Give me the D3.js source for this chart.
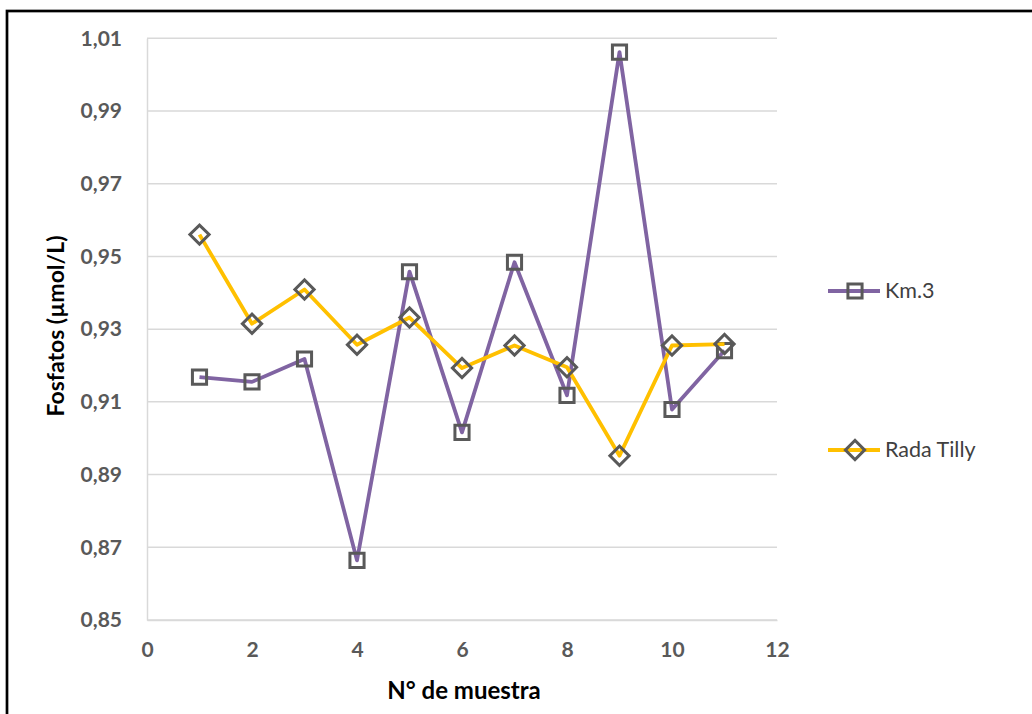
<!DOCTYPE html>
<html>
<head>
<meta charset="utf-8">
<script src="https://cdn.jsdelivr.net/npm/d3@7"></script>
<style>
  body { margin: 0; background: #fff; }
  svg { display: block; }
</style>
</head>
<body>
<script>
// muestras y valores
const muestras = [1, 2, 3, 4, 5, 6, 7, 8, 9, 10, 11];
const km3 = [0.9168, 0.9155, 0.9218, 0.8664, 0.9458, 0.9016, 0.9484, 0.9118, 1.0062, 0.9079, 0.9241];
const radaTilly = [0.9560, 0.9315, 0.9409, 0.9257, 0.9332, 0.9193, 0.9255, 0.9195, 0.8952, 0.9255, 0.9259];
const yTicks = [0.85, 0.87, 0.89, 0.91, 0.93, 0.95, 0.97, 0.99, 1.01];
const xTicks = [0, 2, 4, 6, 8, 10, 12];

var width = 1032, height = 714;
var svg = d3.select('body').append('svg')
            .attr("width", width).attr("height", height);

// marco
svg.append('rect')
   .attr("x", 7).attr("y", 11)
   .attr("width", 1100).attr("height", 800)
   .attr("fill", "#fff")
   .attr("stroke", "#000").attr("stroke-width", 2.7);

var x = d3.scaleLinear().domain([0, 12]).range([147, 777]);
var y = d3.scaleLinear().domain([0.85, 1.01]).range([620, 38.3]);
const fmt = v => d3.format(".2f")(v).replace(".", ",");

// grilla
svg.append("g")
   .selectAll("line")
   .data(yTicks)
   .enter().append("line")
   .attr("x1", x(0)).attr("x2", x(12))
   .attr("y1", d => y(d)).attr("y2", d => y(d))
   .attr("stroke", "#d9d9d9").attr("stroke-width", 1.5);

// eje y
var yAxis = d3.axisLeft(y).tickValues(yTicks).tickFormat(fmt).tickSize(0).tickPadding(25);
var gy = svg.append("g").attr("transform", "translate(" + x(0) + ",0)").call(yAxis);
gy.select(".domain").attr("stroke", "#d9d9d9").attr("stroke-width", 1.5);
gy.selectAll("text")
  .attr("font-family", "Lato").attr("font-weight", "bold")
  .attr("font-size", 21).attr("fill", "#595959");

// eje x
var xAxis = d3.axisBottom(x).tickValues(xTicks).tickFormat(d3.format("d")).tickSize(0).tickPadding(22);
var gx = svg.append("g").attr("transform", "translate(0," + y(0.85) + ")").call(xAxis);
gx.select(".domain").attr("stroke", "#d9d9d9").attr("stroke-width", 1.5);
gx.selectAll("text")
  .attr("font-family", "Lato").attr("font-weight", "bold")
  .attr("font-size", 21).attr("fill", "#595959");

// titulos
svg.append("text")
   .attr("x", 464).attr("y", 699)
   .attr("text-anchor", "middle")
   .attr("font-family", "Lato").attr("font-weight", "bold").attr("font-size", 24)
   .attr("fill", "#000")
   .text("N° de muestra");
svg.append("text")
   .attr("transform", "translate(64,326) rotate(-90)")
   .attr("text-anchor", "middle")
   .attr("font-family", "Lato").attr("font-weight", "bold").attr("font-size", 23)
   .attr("fill", "#000")
   .text("Fosfatos (µmol/L)");

const series = [
  {name: "Km.3", values: km3, color: "#8064a2", symbol: d3.symbolSquare, size: 200, rot: 0, ly: 291},
  {name: "Rada Tilly", values: radaTilly, color: "#ffc000", symbol: d3.symbolSquare, size: 185, rot: 45, ly: 450}
];

var line = d3.line().x(d => x(d[0])).y(d => y(d[1]));

series.forEach(s => {
  var pts = muestras.map((m, i) => [m, s.values[i]]);
  svg.append("path")
     .datum(pts)
     .attr("d", line)
     .attr("fill", "none")
     .attr("stroke", s.color).attr("stroke-width", 3.8)
     .attr("stroke-linejoin", "round");
  svg.append("g").selectAll("path")
     .data(pts)
     .enter().append("path")
     .attr("d", d3.symbol().type(s.symbol).size(s.size))
     .attr("transform", d => "translate(" + x(d[0]) + "," + y(d[1]) + ") rotate(" + s.rot + ")")
     .attr("fill", "none")
     .attr("stroke", "#595959").attr("stroke-width", 3);

  // leyenda
  var lg = svg.append("g");
  lg.append("line")
    .attr("x1", 828).attr("x2", 880)
    .attr("y1", s.ly).attr("y2", s.ly)
    .attr("stroke", s.color).attr("stroke-width", 3.8);
  lg.append("path")
    .attr("d", d3.symbol().type(s.symbol).size(s.size))
    .attr("transform", "translate(855," + s.ly + ") rotate(" + s.rot + ")")
    .attr("fill", "none")
    .attr("stroke", "#595959").attr("stroke-width", 3);
  lg.append("text")
    .attr("x", 885).attr("y", s.ly + 7)
    .attr("font-family", "Lato").attr("font-size", 21.5)
    .attr("fill", "#404040")
    .text(s.name);
});
</script>
</body>
</html>
